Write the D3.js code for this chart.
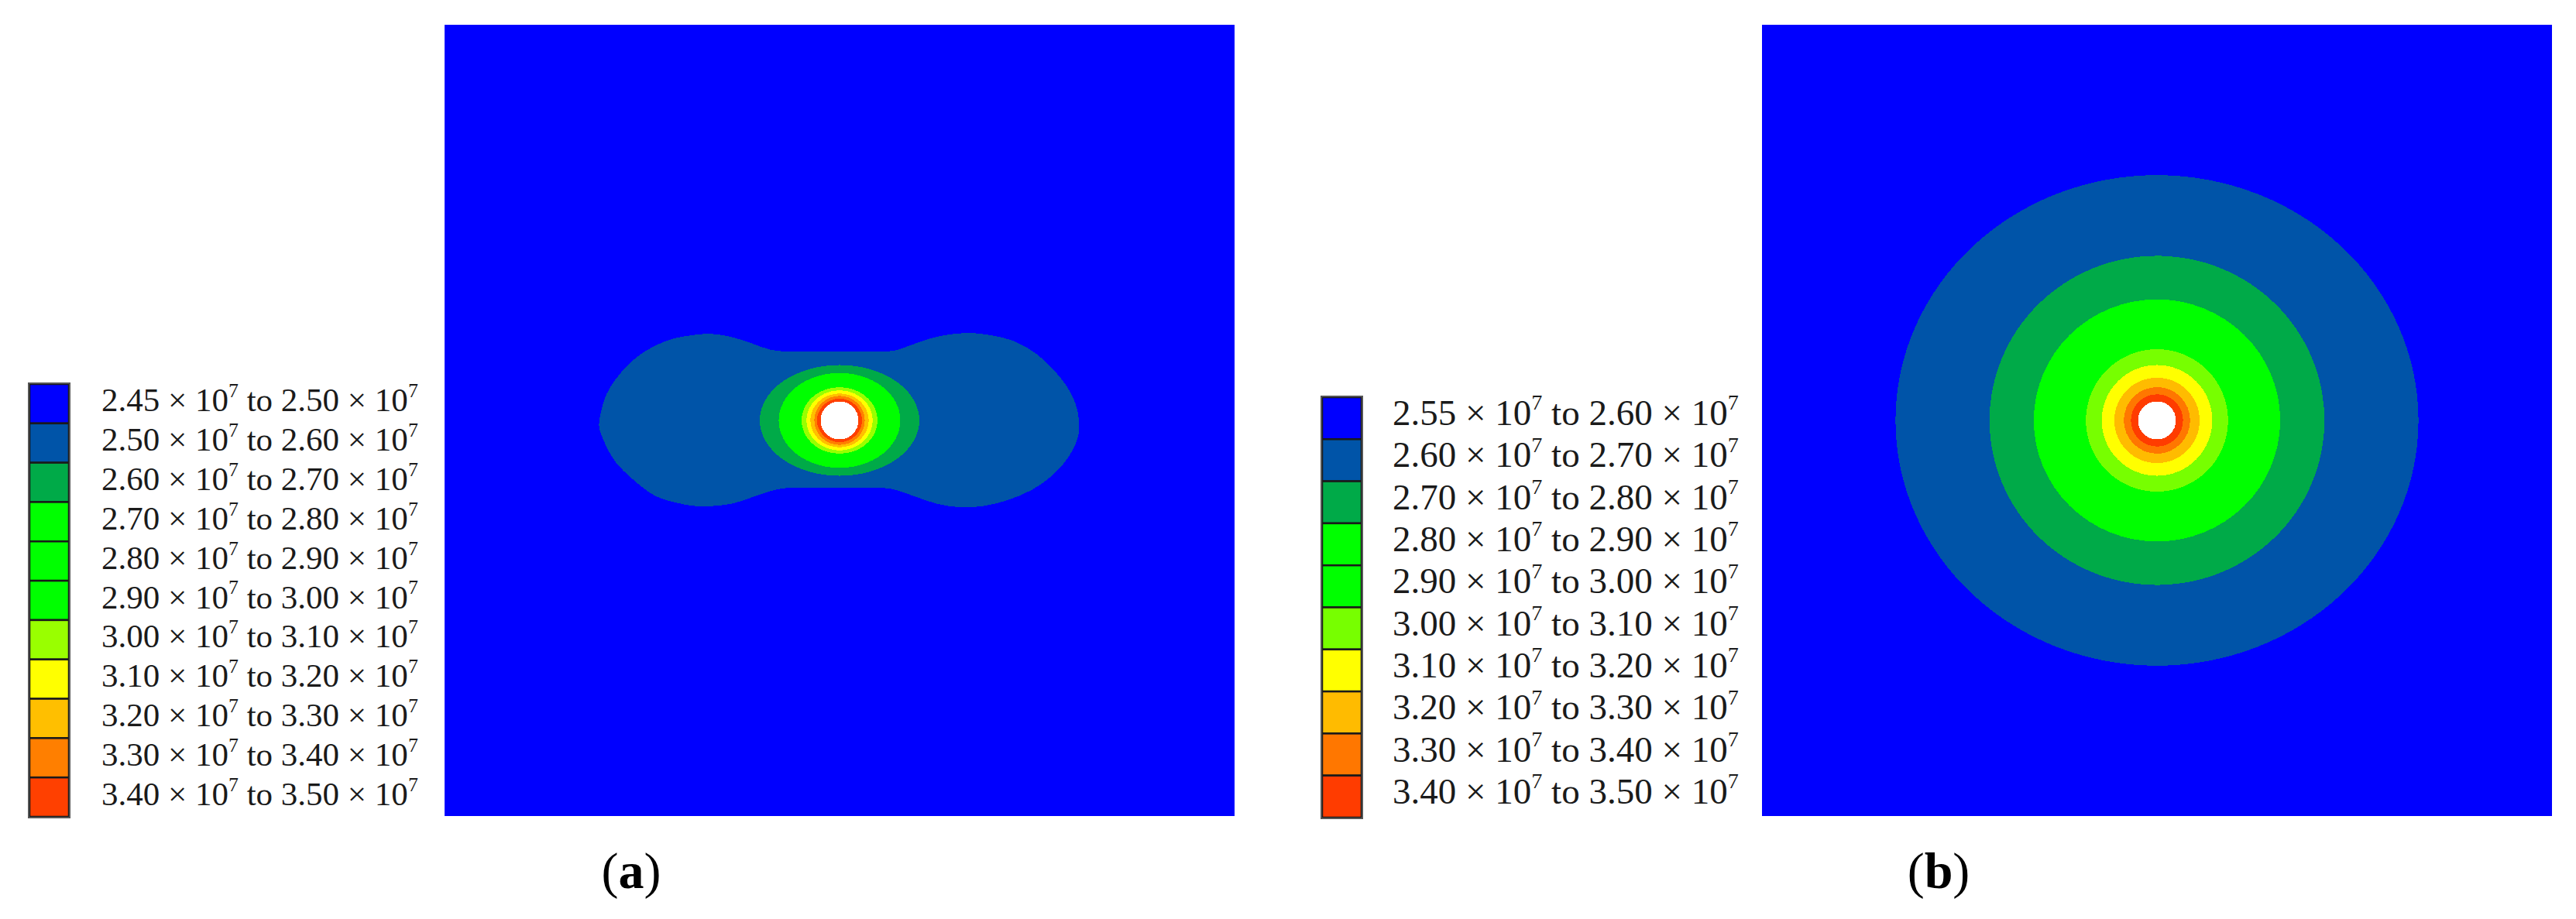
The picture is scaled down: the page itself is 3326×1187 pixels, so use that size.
<!DOCTYPE html>
<html>
<head>
<meta charset="utf-8">
<script src="https://cdn.jsdelivr.net/npm/d3@7"></script>
<style>
  body { margin: 0; background: #fff; }
  svg { display: block; }
</style>
</head>
<body>
<div class="fig"></div>
<script>
// contour legend bounds (x 10^7)
var levelsA = ["2.45", "2.50", "2.60", "2.70", "2.80", "2.90", "3.00", "3.10", "3.20", "3.30", "3.40", "3.50"];
var coloursA = ["#0000ff", "#0054a8", "#00aa48", "#00ff00", "#00ff00", "#00ff00", "#99ff00", "#ffff00", "#ffbf00", "#ff7f00", "#ff4000"];

var levelsB = ["2.55", "2.60", "2.70", "2.80", "2.90", "3.00", "3.10", "3.20", "3.30", "3.40", "3.50"];
var coloursB = ["#0000ff", "#0054a8", "#00aa48", "#00ff00", "#00ff00", "#77ff00", "#ffff00", "#ffbb00", "#ff7700", "#ff3c00"];

// band index, semi axes in model units (model spans -50..50)
var ringsA = [
  [2, 10.1, 7.0],
  [3, 7.7, 6.0],
  [6, 4.8, 4.2],
  [7, 4.2, 3.8],
  [8, 3.7, 3.4],
  [9, 3.2, 3.1],
  [10, 2.85, 2.75]
];
var ringsB = [
  [1, 33.1, 31.0],
  [2, 21.2, 20.8],
  [3, 15.6, 15.3],
  [5, 9.0, 9.0],
  [6, 7.0, 7.0],
  [7, 5.4, 5.4],
  [8, 4.2, 4.2],
  [9, 3.3, 3.3]
];
var holeR = 2.4;

// outline of the 2.50 contour in (a), model units, y up
var lobeA = [
  [-30.4, 0], [-29.5, 3.3], [-27.7, 6.0], [-25.0, 8.5], [-21.8, 10.1], [-18.0, 10.85], [-15.8, 10.9],
  [-13.5, 10.5], [-11.3, 9.8], [-9.0, 9.0], [-6.8, 8.7], [-2.3, 8.7], [2.3, 8.7], [6.8, 8.8],
  [9.0, 9.5], [11.3, 10.3], [13.5, 10.8], [16.2, 11.05], [18.9, 10.8], [22.1, 10.0], [24.8, 8.5],
  [27.0, 6.5], [28.8, 4.25], [29.9, 2.0], [30.3, 0],
  [30.2, -2.0], [29.0, -4.6], [27.0, -6.9], [24.3, -8.8], [21.2, -10.1], [18.0, -10.85], [14.9, -10.95],
  [12.2, -10.5], [9.5, -9.6], [6.8, -8.7], [4.5, -8.5], [-2.3, -8.5], [-6.8, -8.55], [-9.0, -9.0],
  [-11.3, -9.8], [-13.5, -10.5], [-15.8, -10.8], [-18.0, -10.85], [-20.7, -10.4], [-23.4, -9.5],
  [-26.1, -7.5], [-28.4, -5.2], [-29.7, -2.9], [-30.4, -1.0]
];

var panelLabels = ["a", "b"];

var W = 3326, H = 1187;

var svg = d3.select(".fig").append("svg")
  .attr("width", W)
  .attr("height", H);

svg.append("rect").attr("width", W).attr("height", H).attr("fill", "#fff");

function drawPanel(opt) {
  var x = d3.scaleLinear().domain([-50, 50]).range([opt.left, opt.left + 1020]);
  var y = d3.scaleLinear().domain([-50, 50]).range([opt.top + 1022, opt.top]);
  var g = svg.append("g").attr("shape-rendering", "crispEdges");

  g.append("rect")
    .attr("x", x(-50)).attr("y", y(50))
    .attr("width", x(50) - x(-50)).attr("height", y(-50) - y(50))
    .attr("fill", opt.colours[0]);

  if (opt.outline) {
    g.append("path")
      .datum(opt.outline)
      .attr("d", d3.line().x(d => x(d[0])).y(d => y(d[1])).curve(d3.curveCatmullRomClosed))
      .attr("fill", opt.colours[1]);
  }

  g.selectAll("ellipse.ring")
    .data(opt.rings)
    .enter().append("ellipse")
    .attr("class", "ring")
    .attr("cx", x(0)).attr("cy", y(0))
    .attr("rx", d => x(d[1]) - x(0))
    .attr("ry", d => y(0) - y(d[2]))
    .attr("fill", d => opt.colours[d[0]]);

  g.append("ellipse")
    .attr("cx", x(0)).attr("cy", y(0))
    .attr("rx", x(holeR) - x(0)).attr("ry", y(0) - y(holeR))
    .attr("fill", "#fff");
}

function drawLegend(opt) {
  var bands = d3.range(opt.colours.length);
  var row = d3.scaleBand().domain(bands).range([opt.top, opt.bottom]);
  var g = svg.append("g");

  g.selectAll("rect.sw")
    .data(bands)
    .enter().append("rect")
    .attr("class", "sw")
    .attr("x", opt.left).attr("y", d => row(d))
    .attr("width", 51).attr("height", row.bandwidth())
    .attr("fill", d => opt.colours[d])
    .attr("stroke", "#1a1a1a")
    .attr("stroke-width", 2.5);

  g.append("rect")
    .attr("x", opt.left - 1).attr("y", opt.top - 1)
    .attr("width", 53).attr("height", opt.bottom - opt.top + 2)
    .attr("fill", "none").attr("stroke", "#555").attr("stroke-width", 2);

  var txt = g.selectAll("text")
    .data(bands)
    .enter().append("text")
    .attr("x", opt.textX)
    .attr("y", d => row(d) + row.bandwidth() / 2 + opt.shift)
    .attr("font-family", "'Liberation Serif', 'Times New Roman', serif")
    .attr("font-size", opt.size)
    .attr("fill", "#1a1a1a");

  txt.append("tspan").text(d => opt.levels[d] + " \u00d7 10");
  txt.append("tspan").attr("dy", -0.42 * opt.size).attr("font-size", opt.size * 0.6).text("7");
  txt.append("tspan").attr("dy", 0.42 * opt.size).text(d => " to " + opt.levels[d + 1] + " \u00d7 10");
  txt.append("tspan").attr("dy", -0.42 * opt.size).attr("font-size", opt.size * 0.6).text("7");
}

drawPanel({ left: 574, top: 32, colours: coloursA, rings: ringsA, outline: lobeA });
drawPanel({ left: 2275, top: 32, colours: coloursB, rings: ringsB });

drawLegend({ left: 38, top: 496, bottom: 1055, colours: coloursA, levels: levelsA, textX: 131, size: 43, shift: 10 });
drawLegend({ left: 1707, top: 513, bottom: 1056, colours: coloursB, levels: levelsB, textX: 1798, size: 47, shift: 9 });

// sub-figure labels
var labelX = [815, 2503];
panelLabels.forEach(function(l, i) {
  var t = svg.append("text")
    .attr("x", labelX[i]).attr("y", 1147)
    .attr("text-anchor", "middle")
    .attr("font-family", "'Liberation Serif', 'Times New Roman', serif")
    .attr("font-size", 66)
    .attr("fill", "#000");
  t.append("tspan").text("(");
  t.append("tspan").attr("font-weight", "bold").text(l);
  t.append("tspan").text(")");
});
</script>
</body>
</html>
